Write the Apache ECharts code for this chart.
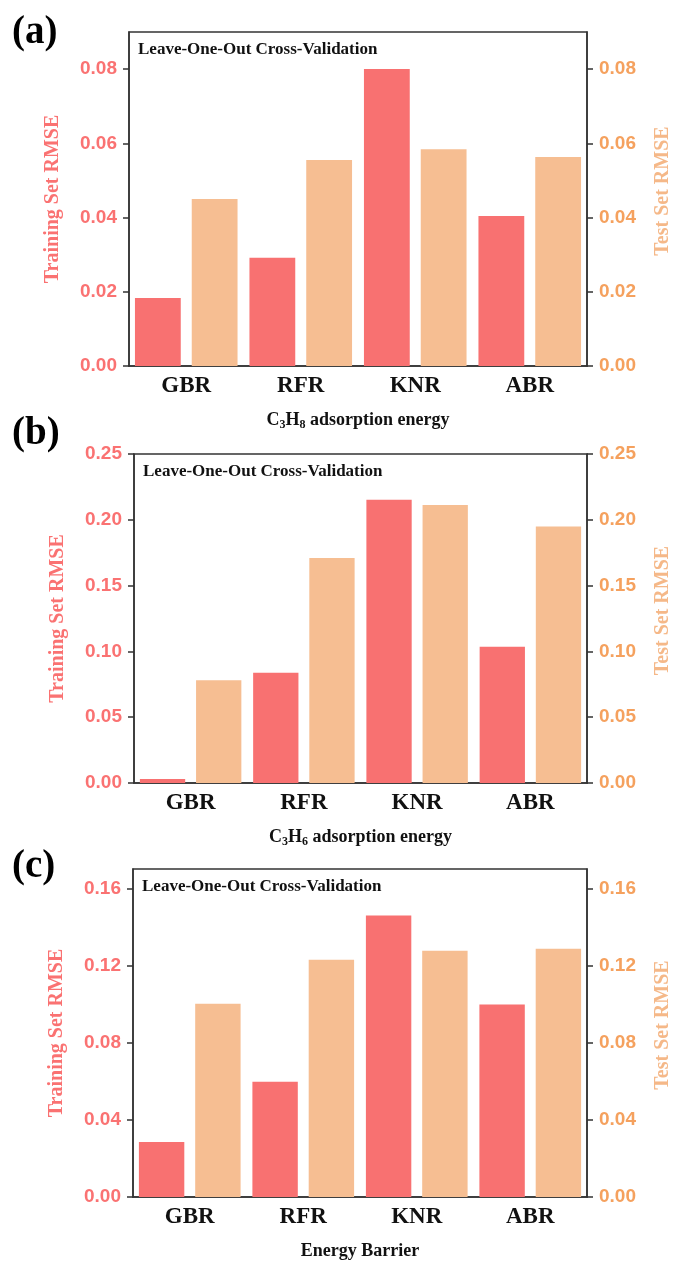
<!DOCTYPE html>
<html>
<head>
<meta charset="utf-8">
<script src="https://cdn.jsdelivr.net/npm/echarts@6/dist/echarts.min.js"></script>
<style>
  html, body { margin: 0; padding: 0; background: #ffffff; }
  #chart { width: 681px; height: 1261px; }
</style>
</head>
<body>
<div id="chart"></div>
<script>
// Regressor names shared by all three panels
const categories = ['GBR', 'RFR', 'KNR', 'ABR'];

// (a) C3H8 adsorption energy
const trainRmseA = [0.0183, 0.0292, 0.0800, 0.0404];
const testRmseA  = [0.0450, 0.0555, 0.0584, 0.0563];

// (b) C3H6 adsorption energy
const trainRmseB = [0.0030, 0.0838, 0.2153, 0.1035];
const testRmseB  = [0.0780, 0.1710, 0.2112, 0.1950];

// (c) Energy barrier
const trainRmseC = [0.0285, 0.0597, 0.1459, 0.0998];
const testRmseC  = [0.1001, 0.1230, 0.1276, 0.1287];

// Tick values per panel
const ticksA = [0, 0.02, 0.04, 0.06, 0.08];
const ticksB = [0, 0.05, 0.10, 0.15, 0.20, 0.25];
const ticksC = [0, 0.04, 0.08, 0.12, 0.16];

const panelLabels = ['(a)', '(b)', '(c)'];
const boxNote = 'Leave-One-Out Cross-Validation';

const RED = '#F87171';
const PEACH = '#F6BE92';
const RED_TEXT = '#FA7272';
const ORANGE_TEXT = '#F5A15E';
const ORANGE_NAME = '#F5B888';
const AXIS = '#333333';
const SERIF = '"Liberation Serif", "Times New Roman", serif';
const SANS = '"Liberation Sans", Arial, sans-serif';

const panels = [
  { grid: { left: 129, top: 32, width: 459, height: 334 }, max: 0.09, ticks: ticksA,
    train: trainRmseA, test: testRmseA,
    xname: '{n|C}{s|3}{n|H}{s|8}{n| adsorption energy}' },
  { grid: { left: 134, top: 454, width: 454, height: 329 }, max: 0.25, ticks: ticksB,
    train: trainRmseB, test: testRmseB,
    xname: '{n|C}{s|3}{n|H}{s|6}{n| adsorption energy}' },
  { grid: { left: 133, top: 869, width: 459, height: 334 }, max: 0.17, ticks: ticksC,
    train: trainRmseC, test: testRmseC,
    xname: '{n|Energy Barrier}' }
];

const grids = [], xAxes = [], yAxes = [], series = [], graphics = [];

panels.forEach((p, i) => {
  grids.push(Object.assign({ show: true, borderColor: AXIS, borderWidth: 1.5, backgroundColor: 'transparent' }, p.grid));

  xAxes.push({
    type: 'category', gridIndex: i, data: categories,
    axisLine: { lineStyle: { color: AXIS, width: 1.5 } },
    axisTick: { show: false },
    axisLabel: { color: '#111', fontFamily: SERIF, fontWeight: 'bold', fontSize: 23, margin: 9 },
    name: p.xname, nameLocation: 'middle', nameGap: 43,
    nameTextStyle: {
      rich: {
        n: { fontFamily: SERIF, fontWeight: 'bold', fontSize: 18, color: '#111', lineHeight: 22 },
        s: { fontFamily: SERIF, fontWeight: 'bold', fontSize: 12, color: '#111', lineHeight: 12, verticalAlign: 'bottom' }
      }
    }
  });

  const common = {
    type: 'value', gridIndex: i, min: 0, max: p.max,
    splitLine: { show: false },
    axisLine: { show: true, lineStyle: { color: AXIS, width: 1.5 } },
    nameLocation: 'middle', nameGap: 66, nameRotate: 90
  };

  yAxes.push(Object.assign({}, common, {
    position: 'left',
    axisTick: { show: true, length: 6, lineStyle: { color: AXIS, width: 1.5 }, customValues: p.ticks },
    axisLabel: { color: RED_TEXT, fontFamily: SANS, fontWeight: 'bold', fontSize: 19, margin: 12,
                 customValues: p.ticks, formatter: v => v.toFixed(2) },
    name: 'Training Set RMSE',
    nameTextStyle: { color: RED_TEXT, fontFamily: SERIF, fontWeight: 'bold', fontSize: 20 }
  }));

  yAxes.push(Object.assign({}, common, {
    position: 'right',
    axisTick: { show: true, length: 6, lineStyle: { color: AXIS, width: 1.5 }, customValues: p.ticks },
    axisLabel: { color: ORANGE_TEXT, fontFamily: SANS, fontWeight: 'bold', fontSize: 19, margin: 12,
                 customValues: p.ticks, formatter: v => v.toFixed(2) },
    name: 'Test Set RMSE',
    nameTextStyle: { color: ORANGE_NAME, fontFamily: SERIF, fontWeight: 'bold', fontSize: 20,
                     padding: [0, 0, 0, 16] }
  }));

  series.push({
    type: 'bar', name: 'Training', xAxisIndex: i, yAxisIndex: 2 * i,
    data: p.train, barWidth: '40%', barGap: '24%',
    itemStyle: { color: RED }
  });
  series.push({
    type: 'bar', name: 'Test', xAxisIndex: i, yAxisIndex: 2 * i + 1,
    data: p.test, barWidth: '40%', barGap: '24%',
    itemStyle: { color: PEACH }
  });

  graphics.push({
    type: 'text', left: p.grid.left + 9, top: p.grid.top + 9,
    style: { text: boxNote, fill: '#111', font: 'bold 17px ' + SERIF }
  });
});

graphics.push(
  { type: 'text', left: 12, top: 13, style: { text: panelLabels[0], fill: '#000', font: 'bold 39px ' + SERIF } },
  { type: 'text', left: 12, top: 414, style: { text: panelLabels[1], fill: '#000', font: 'bold 39px ' + SERIF } },
  { type: 'text', left: 12, top: 847, style: { text: panelLabels[2], fill: '#000', font: 'bold 39px ' + SERIF } }
);

const chart = echarts.init(document.getElementById('chart'), null, { renderer: 'canvas' });
chart.setOption({
  animation: false,
  backgroundColor: '#ffffff',
  grid: grids,
  xAxis: xAxes,
  yAxis: yAxes,
  series: series,
  graphic: graphics
});
</script>
</body>
</html>
